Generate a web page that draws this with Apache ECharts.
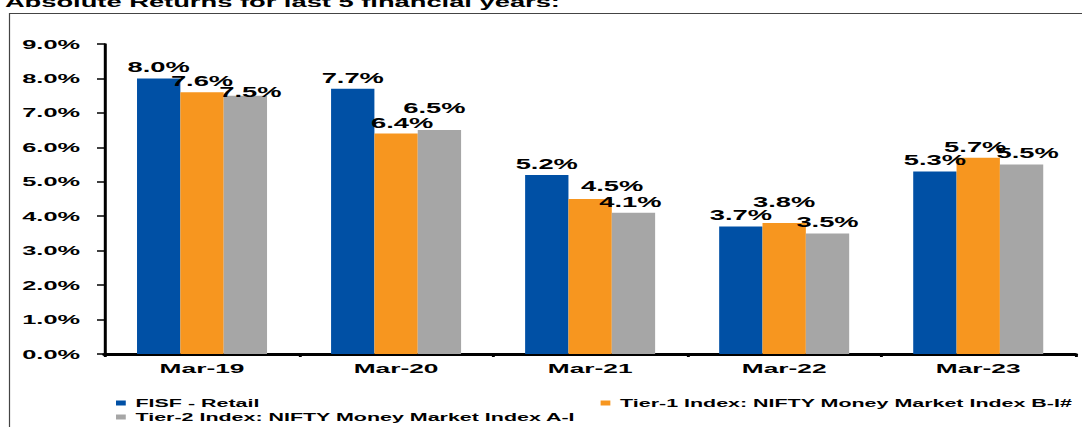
<!DOCTYPE html>
<html>
<head>
<meta charset="utf-8">
<script src="https://cdn.jsdelivr.net/npm/echarts@6/dist/echarts.min.js"></script>
<style>
  html, body { margin: 0; padding: 0; background: #fff; overflow: hidden; }
  #main { height: 427px; transform-origin: 0 0; }
</style>
</head>
<body>
<div id="main"></div>
<script>
// the source picture is stretched sideways, text included, so draw narrow and widen the div
var K = 1.95

var categories = ['Mar-19', 'Mar-20', 'Mar-21', 'Mar-22', 'Mar-23']
var fisfRetail = [8.0, 7.7, 5.2, 3.7, 5.3]
var tier1 = [7.6, 6.4, 4.5, 3.8, 5.7]
var tier2 = [7.5, 6.5, 4.1, 3.5, 5.5]
var seriesNames = [
  'FISF - Retail',
  'Tier-1 Index: NIFTY Money Market Index B-I#',
  'Tier-2 Index: NIFTY Money Market Index A-I'
]
var colors = ['#0050A5', '#F7961F', '#A6A6A6']

// hand moved labels in the original (px on screen, [x, y])
var nudges = [
  [null, null, null, null, null],
  [null, [6, 1], [22, -2], [0, -10], [-3, 0]],
  [[5, 7], [-5, -11], [-3, 0], null, [6, 0]]
]

var W = 1082 / K
var el = document.getElementById('main')
el.style.width = W + 'px'
el.style.transform = 'scaleX(' + K + ')'

var font = '"Liberation Sans", Arial, sans-serif'

function makeData(values, s) {
  return values.map(function (v, i) {
    var n = nudges[s][i]
    if (!n) return v
    return { value: v, label: { offset: [n[0] / K, n[1]] } }
  })
}

function makeSeries(name, values, s) {
  return {
    name: name,
    type: 'bar',
    barGap: 0,
    barCategoryGap: '33%',
    itemStyle: { color: colors[s] },
    label: {
      show: true,
      position: 'top',
      distance: 4,
      color: '#000',
      fontFamily: font,
      fontWeight: 'bold',
      fontSize: 14,
      formatter: function (p) { return p.value.toFixed(1) + '%' }
    },
    data: makeData(values, s)
  }
}

function legendAt(name, left, top) {
  return {
    data: [name],
    left: left,
    top: top,
    padding: 0,
    icon: 'rect',
    itemWidth: 5,
    itemHeight: 5,
    textStyle: { fontFamily: font, fontWeight: 'bold', fontSize: 11, color: '#000' }
  }
}

var chart = echarts.init(el, null, { renderer: 'svg' })

var option = {
  animation: false,
  backgroundColor: '#fff',
  title: {
    text: 'Absolute Returns for last 5 financial years:',
    left: 2.5,
    top: -5,
    padding: 0,
    textStyle: {
      fontFamily: font,
      fontWeight: 'bold',
      fontSize: 14,
      lineHeight: 14,
      color: '#000'
    }
  },
  legend: [
    legendAt(seriesNames[0], 59.5, 397.5),
    legendAt(seriesNames[1], 308, 397.5),
    legendAt(seriesNames[2], 59.5, 411.5)
  ],
  grid: {
    left: 105 / K,
    right: 7 / K,
    top: 44,
    bottom: 73,
    containLabel: false
  },
  xAxis: {
    type: 'category',
    data: categories,
    axisLine: { lineStyle: { color: '#000', width: 3 } },
    axisTick: { show: true, length: 3, lineStyle: { color: '#000', width: 1.5 } },
    axisLabel: {
      margin: 7,
      color: '#000',
      fontFamily: font,
      fontWeight: 'bold',
      fontSize: 13.5
    }
  },
  yAxis: {
    type: 'value',
    min: 0,
    max: 9,
    interval: 1,
    splitLine: { show: false },
    axisLine: { show: true, lineStyle: { color: '#000', width: 3 / K } },
    axisTick: { show: true, length: 8 / K, lineStyle: { color: '#000', width: 1.5 } },
    axisLabel: {
      margin: 25 / K,
      color: '#000',
      fontFamily: font,
      fontWeight: 'bold',
      fontSize: 13,
      formatter: function (v) { return v.toFixed(1) + '%' }
    }
  },
  graphic: [{
    type: 'line',
    shape: { x1: 9 / K, y1: 13.5, x2: W + 5, y2: 13.5 },
    style: { stroke: '#444', lineWidth: 1.2 }
  }, {
    type: 'line',
    shape: { x1: 9.5 / K, y1: 13, x2: 9.5 / K, y2: 440 },
    style: { stroke: '#444', lineWidth: 1.2 / K }
  }],
  series: [
    makeSeries(seriesNames[0], fisfRetail, 0),
    makeSeries(seriesNames[1], tier1, 1),
    makeSeries(seriesNames[2], tier2, 2)
  ]
}

chart.setOption(option)
</script>
</body>
</html>
